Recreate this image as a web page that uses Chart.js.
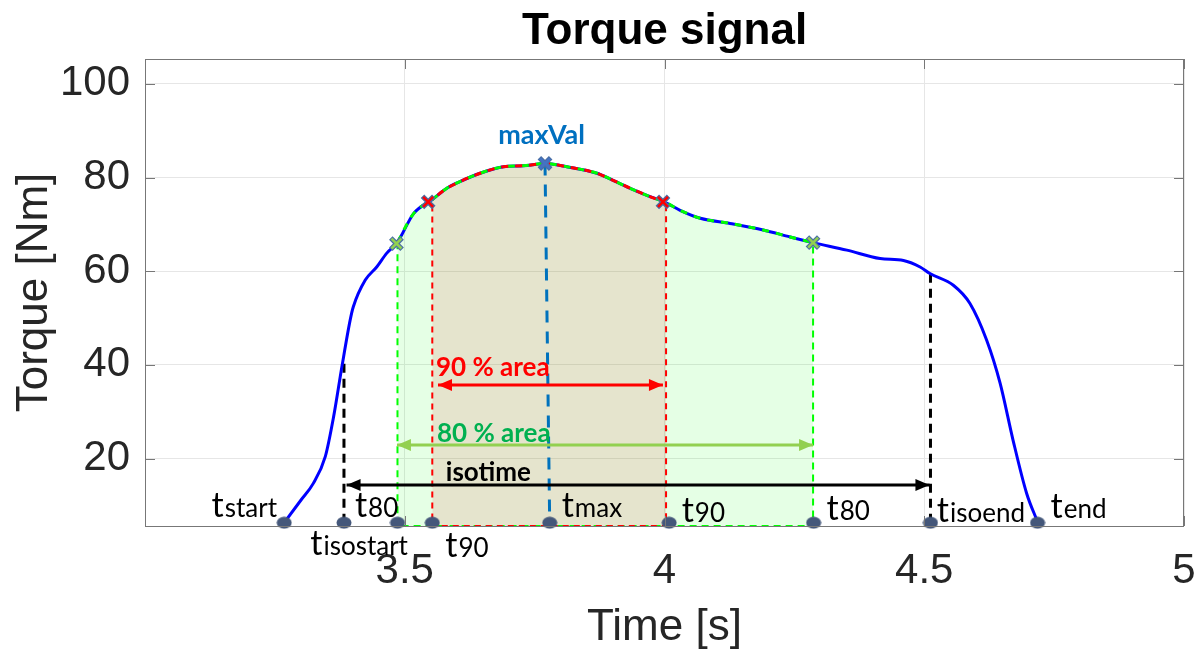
<!DOCTYPE html>
<html>
<head>
<meta charset="utf-8">
<script src="https://cdn.jsdelivr.net/npm/chart.js@4.4.0/dist/chart.umd.min.js"></script>
<style>
  body { margin: 0; background: #fff; }
  canvas { display: block; }
</style>
</head>
<body>
<canvas id="torqueChart" width="1203" height="651"></canvas>
<script>
// torque curve (time [s], torque [Nm])
var torqueTime = [3.268, 3.300, 3.324, 3.347, 3.363, 3.379, 3.395, 3.401, 3.424, 3.446, 3.465, 3.486,
    3.517, 3.553, 3.581, 3.606, 3.645, 3.690, 3.728, 3.770, 3.812, 3.870, 3.901, 3.934, 3.966, 4.003,
    4.030, 4.069, 4.126, 4.190, 4.242, 4.286, 4.351, 4.415, 4.460, 4.492, 4.511, 4.556, 4.588, 4.620,
    4.646, 4.671, 4.697, 4.718];
var torqueVal = [6.3, 11.1, 14.7, 20.4, 28.9, 39.6, 49.6, 52.4, 58.1, 60.9, 63.8, 66.2,
    72.3, 75.3, 77.7, 79.1, 80.9, 82.3, 82.5, 83.0, 82.3, 80.9, 79.4, 77.7, 76.2, 74.6,
    73.0, 71.3, 70.2, 68.8, 67.3, 66.1, 64.5, 62.7, 62.3, 60.9, 59.5, 57.0, 53.1, 45.3,
    36.1, 23.9, 12.6, 6.5];

// x markers on the curve: t80, t90, max, t90, t80
var markerTime = [3.484, 3.545, 3.770, 3.997, 4.286];
var markerVal = [65.9, 74.8, 83.0, 74.8, 66.1];
var markerColor = ['#92D050', '#FF0000', '#4472C4', '#FF0000', '#92D050'];

// event dots on the time axis
var eventTime = [3.268, 3.383, 3.486, 3.553, 3.779, 4.009, 4.287, 4.512, 4.718];
var eventLevel = 6.3;
var eventSub = ['start', 'isostart', '80', '90', 'max', '90', '80', 'isoend', 'end'];
var eventLabelX = [3.128, 3.318, 3.404, 3.578, 3.802, 4.033, 4.312, 4.524, 4.743];
var eventLabelY = [7.5, -0.6, 7.6, -1.0, 7.6, 6.5, 6.9, 6.5, 7.3];

var area80 = [3.486, 4.286];
var area90 = [3.553, 4.003];
var isoTime = [3.383, 4.512];
var isoTop = [41.5, 59.5];

var arrow90 = [3.564, 3.997], arrow90Y = 35.7;
var arrow80 = [3.485, 4.286], arrow80Y = 22.9;
var arrowIso = [3.388, 4.510], arrowIsoY = 14.35;

var xTicks = [3.5, 4, 4.5, 5];
var yTicks = [20, 40, 60, 80, 100];
var xRange = [3, 5];
var yRange = [5.6, 105.3];

function pts(xs, ys) {
    return xs.map(function (x, i) { return { x: x, y: ys[i] }; });
}
function slice(a, b) {
    var out = [];
    torqueTime.forEach(function (t, i) {
        if (t >= a - 1e-9 && t <= b + 1e-9) out.push({ x: t, y: torqueVal[i] });
    });
    return out;
}
function valAt(t) {
    return torqueVal[torqueTime.indexOf(t)];
}
function box(xs, top1, top2) {
    return [
        { x: xs[0], y: top1 }, { x: xs[0], y: yRange[0] },
        { x: xs[1], y: yRange[0] }, { x: xs[1], y: top2 }
    ];
}

// ellipse used for the event dots
var dotImg = document.createElement('canvas');
dotImg.width = 16; dotImg.height = 13;
var dctx = dotImg.getContext('2d');
dctx.fillStyle = '#44577A';
dctx.beginPath();
dctx.ellipse(8, 6.5, 7.5, 6, 0, 0, 2 * Math.PI);
dctx.fill();

var line = { showLine: true, pointRadius: 0, tension: 0, fill: false };
function ds(extra) { return Object.assign({}, line, extra); }

var datasets = [
    ds({ data: slice(area80[0], area80[1]), fill: 'start', borderWidth: 0,
         backgroundColor: 'rgba(0,255,0,0.1)', cubicInterpolationMode: 'monotone', tension: 0.4, order: 20 }),
    ds({ data: slice(area90[0], area90[1]), fill: 'start', borderWidth: 0,
         backgroundColor: 'rgba(224,120,104,0.2)', cubicInterpolationMode: 'monotone', tension: 0.4, order: 19 }),
    ds({ data: box(area80, valAt(area80[0]), valAt(area80[1])), borderColor: '#00FF00',
         borderWidth: 2, borderDash: [7, 5], order: 15 }),
    ds({ data: box(area90, valAt(area90[0]), valAt(area90[1])), borderColor: '#FF0000',
         borderWidth: 2, borderDash: [6, 5], borderDashOffset: 5, order: 14 }),
    ds({ data: pts([isoTime[0], isoTime[0]], [eventLevel, isoTop[0]]), borderColor: '#000',
         borderWidth: 3, borderDash: [9, 6], order: 13 }),
    ds({ data: pts([isoTime[1], isoTime[1]], [eventLevel, isoTop[1]]), borderColor: '#000',
         borderWidth: 3, borderDash: [9, 6], order: 13 }),
    ds({ data: pts([markerTime[2], eventTime[4]], [markerVal[2], eventLevel]), borderColor: '#0072BD',
         borderWidth: 3, borderDash: [12, 9], order: 12 }),
    // torque signal and highlighted segments
    ds({ data: pts(torqueTime, torqueVal), borderColor: '#0000FF', borderWidth: 3,
         cubicInterpolationMode: 'monotone', tension: 0.4, order: 10 }),
    ds({ data: slice(area80[0], area80[1]), borderColor: '#00FF00', borderWidth: 3, borderDash: [7, 7],
         cubicInterpolationMode: 'monotone', tension: 0.4, order: 9 }),
    ds({ data: slice(area90[0], area90[1]), borderColor: '#FF0000', borderWidth: 3, borderDash: [7, 7],
         borderDashOffset: 7, cubicInterpolationMode: 'monotone', tension: 0.4, order: 8 }),
    // arrows
    ds({ data: pts(arrow90, [arrow90Y, arrow90Y]), borderColor: '#FF0000', borderWidth: 3, arrow: true, order: 6 }),
    ds({ data: pts(arrow80, [arrow80Y, arrow80Y]), borderColor: '#92D050', borderWidth: 3, arrow: true, order: 6 }),
    ds({ data: pts(arrowIso, [arrowIsoY, arrowIsoY]), borderColor: '#000000', borderWidth: 3, arrow: true, order: 6 }),
    // markers
    { data: pts(markerTime, markerVal), showLine: false, pointStyle: 'crossRot', pointRadius: 8,
      pointBorderWidth: 5, pointBorderColor: '#4A6FA5', order: 3, clip: false },
    { data: pts(markerTime, markerVal), showLine: false, pointStyle: 'crossRot', pointRadius: 7,
      pointBorderWidth: 2.5, pointBorderColor: markerColor, order: 2, clip: false },
    { data: eventTime.map(function (t) { return { x: t, y: eventLevel }; }), showLine: false,
      pointStyle: dotImg, pointRadius: 7, order: 1, clip: false }
];

var extras = {
    id: 'extras',
    afterDatasetsDraw: function (chart) {
        var ctx = chart.ctx, xs = chart.scales.x, ys = chart.scales.y, a = chart.chartArea;
        ctx.save();
        // arrow heads
        chart.data.datasets.forEach(function (d, i) {
            if (!d.arrow) return;
            var el = chart.getDatasetMeta(i).data;
            [[el[0], -1], [el[el.length - 1], 1]].forEach(function (p) {
                var x = p[0].x, y = p[0].y, dir = p[1];
                ctx.fillStyle = d.borderColor;
                ctx.beginPath();
                ctx.moveTo(x, y);
                ctx.lineTo(x - dir * 14, y - 6);
                ctx.lineTo(x - dir * 14, y + 6);
                ctx.closePath();
                ctx.fill();
            });
        });
        // event labels
        ctx.fillStyle = '#000';
        ctx.textBaseline = 'alphabetic';
        ctx.textAlign = 'left';
        eventSub.forEach(function (s, i) {
            var x = xs.getPixelForValue(eventLabelX[i]), y = ys.getPixelForValue(eventLabelY[i]);
            ctx.font = '34px Lato';
            ctx.fillText('t', x, y);
            var w = ctx.measureText('t').width;
            ctx.font = '26px Lato';
            ctx.fillText(s, x + w + 1, y);
        });
        // area labels
        ctx.textBaseline = 'middle';
        ctx.font = 'bold 26px Lato';
        ctx.fillStyle = '#FF0000';
        ctx.fillText('90 % area', xs.getPixelForValue(3.560), ys.getPixelForValue(39.5));
        ctx.fillStyle = '#00B050';
        ctx.fillText('80 % area', xs.getPixelForValue(3.562), ys.getPixelForValue(25.4));
        ctx.fillStyle = '#000';
        ctx.fillText('isotime', xs.getPixelForValue(3.579), ys.getPixelForValue(17.0));
        ctx.fillStyle = '#0070C0';
        ctx.font = 'bold 27px Lato';
        ctx.fillText('maxVal', xs.getPixelForValue(3.680), ys.getPixelForValue(89.0));

        // box and inner ticks
        ctx.strokeStyle = '#777';
        ctx.lineWidth = 1;
        ctx.strokeRect(a.left + 0.5, a.top + 0.5, a.right - a.left - 1, a.bottom - a.top);
        ctx.beginPath();
        yTicks.forEach(function (v) {
            var y = Math.round(ys.getPixelForValue(v)) + 0.5;
            ctx.moveTo(a.left, y); ctx.lineTo(a.left + 10, y);
            ctx.moveTo(a.right, y); ctx.lineTo(a.right - 10, y);
        });
        xTicks.forEach(function (v) {
            var x = Math.round(xs.getPixelForValue(v)) + 0.5;
            ctx.moveTo(x, a.bottom); ctx.lineTo(x, a.bottom - 10);
            ctx.moveTo(x, a.top); ctx.lineTo(x, a.top + 10);
        });
        ctx.stroke();

        // titles
        ctx.fillStyle = '#000';
        ctx.textAlign = 'center';
        ctx.textBaseline = 'alphabetic';
        ctx.font = 'bold 44px "Liberation Sans"';
        ctx.fillText('Torque signal', (a.left + a.right) / 2, 44);
        ctx.fillStyle = '#262626';
        ctx.font = '44px "Liberation Sans"';
        ctx.textBaseline = 'middle';
        ctx.fillText('Time [s]', (a.left + a.right) / 2, 628);
        ctx.translate(35, (a.top + a.bottom) / 2);
        ctx.rotate(-Math.PI / 2);
        ctx.fillText('Torque [Nm]', 0, 0);
        ctx.restore();
    }
};

var ctx = document.getElementById('torqueChart').getContext('2d');
var torqueChart = new Chart(ctx, {
    type: 'line',
    data: { datasets: datasets },
    options: {
        responsive: false,
        animation: false,
        devicePixelRatio: 1,
        layout: { padding: { top: 59, right: 19, left: 0, bottom: 0 } },
        plugins: { legend: { display: false }, tooltip: { enabled: false }, title: { display: false } },
        scales: {
            x: {
                type: 'linear', min: xRange[0], max: xRange[1],
                afterBuildTicks: function (s) { s.ticks = xTicks.map(function (v) { return { value: v }; }); },
                afterFit: function (s) { s.height = 125; s.paddingLeft = 0; s.paddingRight = 0; },
                ticks: { font: { family: 'Liberation Sans', size: 42 }, color: '#262626', padding: 20,
                         maxRotation: 0, autoSkip: false,
                         callback: function (v) { return String(v); } },
                grid: { color: '#E6E6E6', drawTicks: false },
                border: { display: false }
            },
            y: {
                type: 'linear', min: yRange[0], max: yRange[1],
                afterBuildTicks: function (s) { s.ticks = yTicks.map(function (v) { return { value: v }; }); },
                afterFit: function (s) { s.width = 145; s.paddingTop = 0; s.paddingBottom = 0; },
                ticks: { font: { family: 'Liberation Sans', size: 42 }, color: '#262626', padding: 15 },
                grid: { color: '#E6E6E6', drawTicks: false },
                border: { display: false }
            }
        }
    },
    plugins: [extras]
});
</script>
</body>
</html>
